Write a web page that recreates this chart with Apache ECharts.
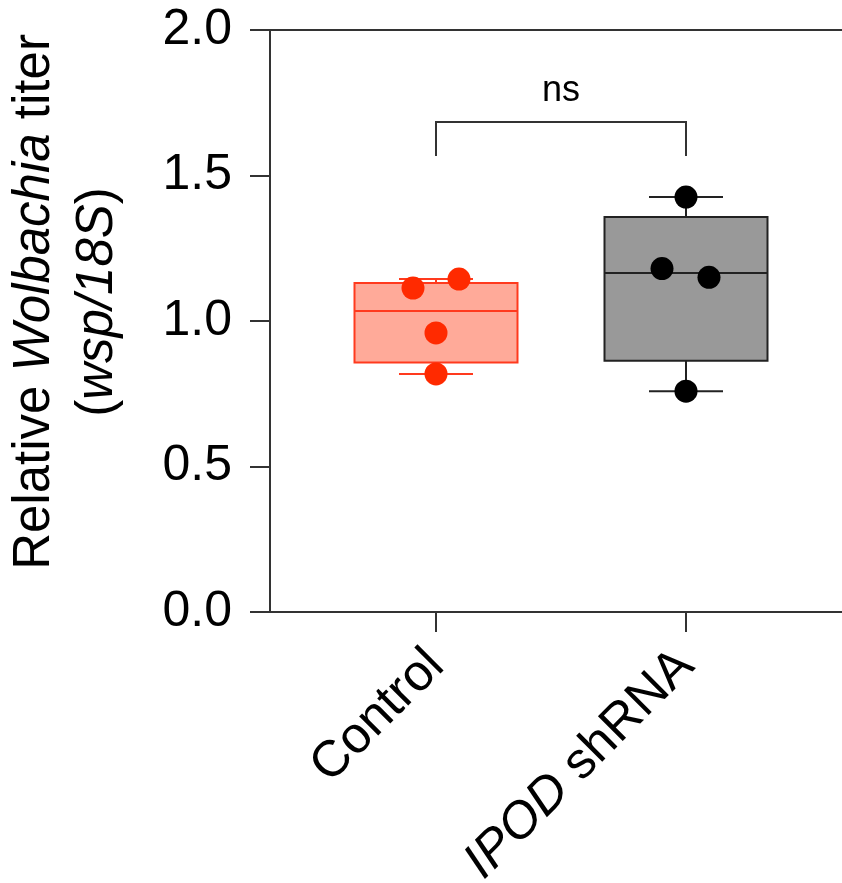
<!DOCTYPE html>
<html>
<head>
<meta charset="UTF-8">
<title>Wolbachia titer</title>
<script src="https://cdn.jsdelivr.net/npm/echarts@6/dist/echarts.min.js"></script>
<style>
  html, body { margin: 0; padding: 0; background: #fff; }
  #chart { width: 842px; height: 883px; }
</style>
</head>
<body>
<div id="chart"></div>
<script>
// groups on the x axis (value positions 0 and 1)
var groups = ['Control', 'IPOD shRNA'];
var groupPos = [0, 1];
var xLabels = ['Control', '{i|IPOD} shRNA'];

// box stats
var boxMin = [0.818, 0.759];
var boxQ1 = [0.857, 0.863];
var boxMedian = [1.034, 1.165];
var boxQ3 = [1.131, 1.357];
var boxMax = [1.144, 1.426];

// individual points (x is jittered around the group position)
var controlX = [-0.092, 0.092, 0, 0];
var controlY = [1.113, 1.144, 0.959, 0.818];
var ipodX = [1, 0.904, 1.092, 1];
var ipodY = [1.426, 1.18, 1.15, 0.759];

// significance bracket: x from, x to, y top, y bottom
var bracket = [0, 1, 1.684, 1.567];
var bracketLabel = 'ns';

var font = 'Liberation Sans, Arial, sans-serif';
var axisColor = '#333';

var boxStyles = [
  { fill: '#ffaa99', stroke: '#ff3a1e' },
  { fill: '#999999', stroke: '#222222' }
];

var boxData = groupPos.map(function(x, i) {
  return [x, boxMin[i], boxQ1[i], boxMedian[i], boxQ3[i], boxMax[i]];
});

function zip(xs, ys) {
  return xs.map(function(x, i) { return [x, ys[i]]; });
}

function renderBox(params, api) {
  var x = api.value(0);
  var pMin = api.coord([x, api.value(1)]);
  var pQ1 = api.coord([x, api.value(2)]);
  var pMed = api.coord([x, api.value(3)]);
  var pQ3 = api.coord([x, api.value(4)]);
  var pMax = api.coord([x, api.value(5)]);
  var s = boxStyles[params.dataIndex];
  var cx = pMed[0];
  var half = 81.5, cap = 37;
  var ls = { stroke: s.stroke, lineWidth: 2 };
  return {
    type: 'group',
    children: [
      { type: 'line', shape: { x1: cx, y1: pQ3[1], x2: cx, y2: pMax[1] }, style: ls },
      { type: 'line', shape: { x1: cx, y1: pQ1[1], x2: cx, y2: pMin[1] }, style: ls },
      { type: 'line', shape: { x1: cx - cap, y1: pMax[1], x2: cx + cap, y2: pMax[1] }, style: ls },
      { type: 'line', shape: { x1: cx - cap, y1: pMin[1], x2: cx + cap, y2: pMin[1] }, style: ls },
      { type: 'rect', shape: { x: cx - half, y: pQ3[1], width: half * 2, height: pQ1[1] - pQ3[1] },
        style: { fill: s.fill, stroke: s.stroke, lineWidth: 2 } },
      { type: 'line', shape: { x1: cx - half, y1: pMed[1], x2: cx + half, y2: pMed[1] }, style: ls }
    ]
  };
}

function renderBracket(params, api) {
  var a = api.coord([api.value(0), api.value(3)]);
  var b = api.coord([api.value(0), api.value(2)]);
  var c = api.coord([api.value(1), api.value(2)]);
  var d = api.coord([api.value(1), api.value(3)]);
  return {
    type: 'group',
    children: [
      { type: 'polyline', shape: { points: [a, b, c, d] },
        style: { stroke: axisColor, lineWidth: 2, fill: null } },
      { type: 'text', style: { text: bracketLabel, x: (b[0] + c[0]) / 2, y: b[1] - 13,
        align: 'center', verticalAlign: 'bottom', fontSize: 36, fontFamily: font, fill: '#000' } }
    ]
  };
}

var chart = echarts.init(document.getElementById('chart'));

var option = {
  animation: false,
  backgroundColor: '#fff',
  grid: { left: 270, right: 0, top: 30, bottom: 271, containLabel: false, outerBoundsMode: 'none' },
  xAxis: [{
    type: 'value',
    min: -0.664,
    max: 1.624,
    position: 'bottom',
    splitLine: { show: false },
    axisLine: { show: true, onZero: false, lineStyle: { color: axisColor, width: 2 } },
    axisTick: { show: true, customValues: groupPos, length: 20, lineStyle: { color: axisColor, width: 2 } },
    axisLabel: {
      customValues: groupPos,
      rotate: 45,
      margin: 46,
      fontSize: 51,
      fontFamily: font,
      color: '#000',
      formatter: function(v) { return xLabels[groupPos.indexOf(v)]; },
      rich: { i: { fontSize: 51, fontFamily: font, fontStyle: 'italic', color: '#000' } }
    }
  }, {
    type: 'value',
    min: -0.664,
    max: 1.624,
    position: 'top',
    splitLine: { show: false },
    axisLine: { show: true, onZero: false, lineStyle: { color: axisColor, width: 2 } },
    axisTick: { show: false },
    axisLabel: { show: false }
  }],
  yAxis: {
    type: 'value',
    min: 0,
    max: 2,
    interval: 0.5,
    splitLine: { show: false },
    axisLine: { show: true, onZero: false, lineStyle: { color: axisColor, width: 2 } },
    axisTick: { show: true, length: 20, lineStyle: { color: axisColor, width: 2 } },
    axisLabel: {
      margin: 38,
      fontSize: 50,
      fontFamily: font,
      color: '#000',
      formatter: function(v) { return v.toFixed(1); }
    },
    name: '{n|Relative }{i|Wolbachia}{n| titer}\n{n|(}{i|wsp/18S}{n|)}',
    nameLocation: 'middle',
    nameRotate: 90,
    nameGap: 141,
    nameTextStyle: {
      fontSize: 51,
      fontFamily: font,
      color: '#000',
      lineHeight: 63,
      padding: [0, 0, 0, 38],
      rich: {
        n: { fontSize: 51, fontFamily: font, color: '#000', lineHeight: 63 },
        i: { fontSize: 51, fontFamily: font, color: '#000', lineHeight: 63, fontStyle: 'italic' }
      }
    }
  },
  series: [{
    type: 'custom',
    name: 'box',
    xAxisIndex: 0,
    renderItem: renderBox,
    encode: { x: 0, y: [1, 2, 3, 4, 5] },
    data: boxData,
    z: 2
  }, {
    type: 'custom',
    name: 'bracket',
    xAxisIndex: 0,
    renderItem: renderBracket,
    encode: { x: [0, 1], y: [2, 3] },
    data: [bracket],
    z: 2
  }, {
    type: 'scatter',
    name: groups[0],
    xAxisIndex: 0,
    symbolSize: 23,
    itemStyle: { color: '#ff2a00', opacity: 1 },
    data: zip(controlX, controlY),
    z: 5
  }, {
    type: 'scatter',
    name: groups[1],
    xAxisIndex: 0,
    symbolSize: 23,
    itemStyle: { color: '#000', opacity: 1 },
    data: zip(ipodX, ipodY),
    z: 5
  }]
};

chart.setOption(option);
</script>
</body>
</html>
